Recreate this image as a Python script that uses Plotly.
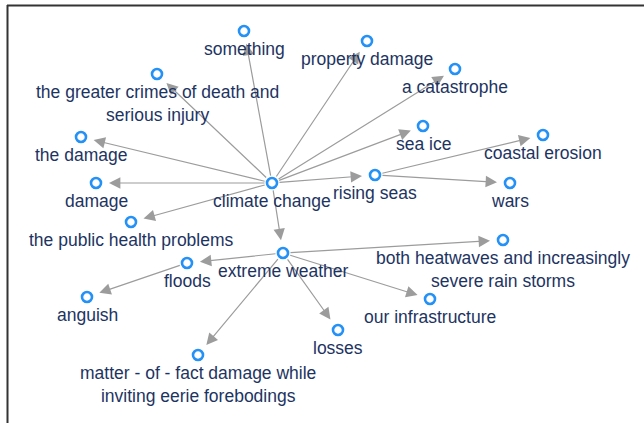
import plotly.graph_objects as go

# Nodes of the network (label, layout position)
node_labels = [
    "climate change", "something", "property damage",
    "the greater crimes of death and<br>serious injury", "a catastrophe",
    "the damage", "sea ice", "coastal erosion", "rising seas", "wars",
    "damage", "the public health problems", "extreme weather",
    "both heatwaves and increasingly<br>severe rain storms", "floods",
    "anguish", "our infrastructure", "losses",
    "matter - of - fact damage while<br>inviting eerie forebodings",
]
node_x = [272, 244, 367, 157, 455, 81, 423, 543, 375, 510, 96, 131, 283, 503, 187, 87, 430, 338, 198]
node_y = [183, 31, 41, 74, 69, 137, 126, 135, 175, 183, 183, 222, 253, 240, 263, 297, 299, 330, 355]

# Directed edges (source -> target), by node label
edge_source = ["climate change"] * 10 + ["rising seas"] * 2 + ["extreme weather"] * 5 + ["floods"]
edge_target = [
    "something", "property damage", "the greater crimes of death and<br>serious injury",
    "a catastrophe", "the damage", "sea ice", "rising seas", "damage",
    "the public health problems", "extreme weather",
    "coastal erosion", "wars",
    "both heatwaves and increasingly<br>severe rain storms", "floods", "our infrastructure",
    "losses", "matter - of - fact damage while<br>inviting eerie forebodings",
    "anguish",
]

W, H = 644, 423
idx = {lab: i for i, lab in enumerate(node_labels)}

fig = go.Figure()

annotations = []
for s, t in zip(edge_source, edge_target):
    i, j = idx[s], idx[t]
    annotations.append(dict(
        x=node_x[j], y=node_y[j], ax=node_x[i], ay=node_y[i],
        xref="x", yref="y", axref="x", ayref="y",
        showarrow=True, arrowhead=2, arrowsize=1.9, arrowwidth=1.2,
        arrowcolor="#9c9c9c", standoff=13, startstandoff=6, text="",
    ))

fig.add_trace(go.Scatter(
    x=node_x, y=node_y, mode="markers",
    marker=dict(size=10, color="white", line=dict(color="#2491f7", width=2.6)),
    hoverinfo="skip", showlegend=False,
))

for lab, x, y in zip(node_labels, node_x, node_y):
    annotations.append(dict(
        x=x, y=y, xref="x", yref="y", text=lab, showarrow=False,
        yanchor="top", xanchor="center", yshift=-6,
        font=dict(family="Liberation Sans, Arial, sans-serif", size=17.5, color="#1d3462"),
    ))

fig.update_layout(
    width=W, height=H, margin=dict(l=0, r=0, t=0, b=0),
    paper_bgcolor="white", plot_bgcolor="white",
    xaxis=dict(range=[0, W], visible=False, fixedrange=True),
    yaxis=dict(range=[H, 0], visible=False, fixedrange=True),
    annotations=annotations,
    shapes=[
        dict(type="line", xref="x", yref="y", x0=7, x1=W, y0=5.5, y1=5.5,
             line=dict(color="#333333", width=2)),
        dict(type="line", xref="x", yref="y", x0=7.5, x1=7.5, y0=5, y1=H,
             line=dict(color="#333333", width=2)),
    ],
)

fig.write_html(
    "out.html",
    config={"displayModeBar": False},
    post_script="document.body.style.margin='0';document.body.style.overflow='hidden';",
)
